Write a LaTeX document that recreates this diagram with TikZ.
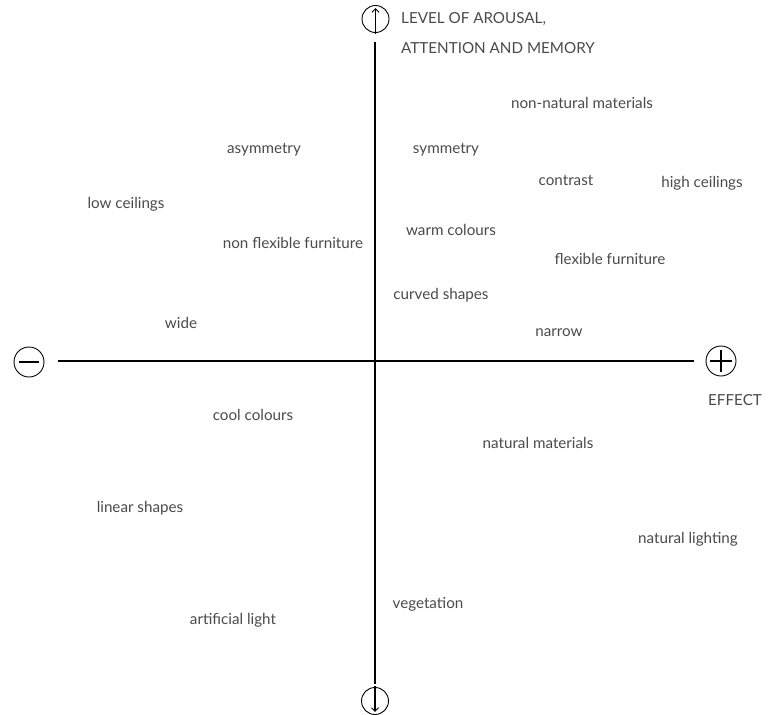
\documentclass[tikz,border=0pt]{standalone}
\usepackage{fontspec}
\setmainfont{Lato}
\usetikzlibrary{arrows.meta}
\definecolor{labelgray}{HTML}{4A4A4A}
\tikzset{
  axis/.style={line width=1.8pt, black},
  ring/.style={circle, draw=black, line width=0.9pt, minimum size=27pt, inner sep=0pt},
  sign/.style={line width=1.3pt, black},
  barb/.style={-{Straight Barb[length=3.5pt,width=7pt,line width=1pt]}},
  lbl/.style={font=\fontsize{15.2}{17}\selectfont, text=labelgray, inner sep=0pt},
  axlbl/.style={font=\fontsize{15.2}{17}\selectfont, text=labelgray, inner sep=0pt, anchor=west}
}
\begin{document}
\begin{tikzpicture}[x=1pt, y=-1pt]
\useasboundingbox (0,0) rectangle (772,715);
% end markers of the two axes
\node[ring] (top) at (375.5,19) {};
\node[ring] (bot) at (375,701) {};
\node[ring, minimum size=30pt] (neg) at (29,362) {};
\node[ring, minimum size=30pt] (pos) at (721,361) {};
% axes
\coordinate (vtop) at (375,42);
\coordinate (vbot) at (375,684);
\coordinate (hl) at (58,361);
\coordinate (hr) at (694,361);
\draw[axis] (vtop) -- (vbot);
\draw[axis] (hl) -- (hr);
% symbols inside the rings
\draw[sign, barb] ([yshift=-1pt]top.south) -- ([yshift=-3pt]top.north);
\draw[sign, barb] ([yshift=1pt]bot.north) -- ([yshift=3pt]bot.south);
\draw[sign] ([xshift=-10pt]neg.center) -- ([xshift=10pt]neg.center);
\draw[sign] ([xshift=-11pt]pos.center) -- ([xshift=11pt]pos.center);
\draw[sign] ([yshift=-11pt]pos.center) -- ([yshift=11pt]pos.center);
% axis captions
\node[axlbl] (ya) at (401,19) {LEVEL OF AROUSAL,};
\node[axlbl] (yb) at (401,48) {ATTENTION AND MEMORY};
\node[axlbl] (xa) at (708,400) {EFFECT};
% factors
\node[lbl] (n1) at (582,103) {non-natural materials};
\node[lbl] (n2) at (264,150) {asymmetry};
\node[lbl] (n3) at (446,150) {symmetry};
\node[lbl] (n4) at (566,180) {contrast};
\node[lbl] (n5) at (702,183) {high ceilings};
\node[lbl] (n6) at (126,204) {low ceilings};
\node[lbl] (n7) at (451,230) {warm colours};
\node[lbl] (n8) at (293,243) {non flexible furniture};
\node[lbl] (n9) at (610,259) {flexible furniture};
\node[lbl] (n10) at (441,295) {curved shapes};
\node[lbl] (n11) at (181,323) {wide};
\node[lbl] (n12) at (559,333) {narrow};
\node[lbl] (n13) at (253,415) {cool colours};
\node[lbl] (n14) at (538,443) {natural materials};
\node[lbl] (n15) at (140,508) {linear shapes};
\node[lbl] (n16) at (688,539) {natural lighting};
\node[lbl] (n17) at (428,604) {vegetation};
\node[lbl] (n18) at (233,620) {artificial light};
\end{tikzpicture}
\end{document}
